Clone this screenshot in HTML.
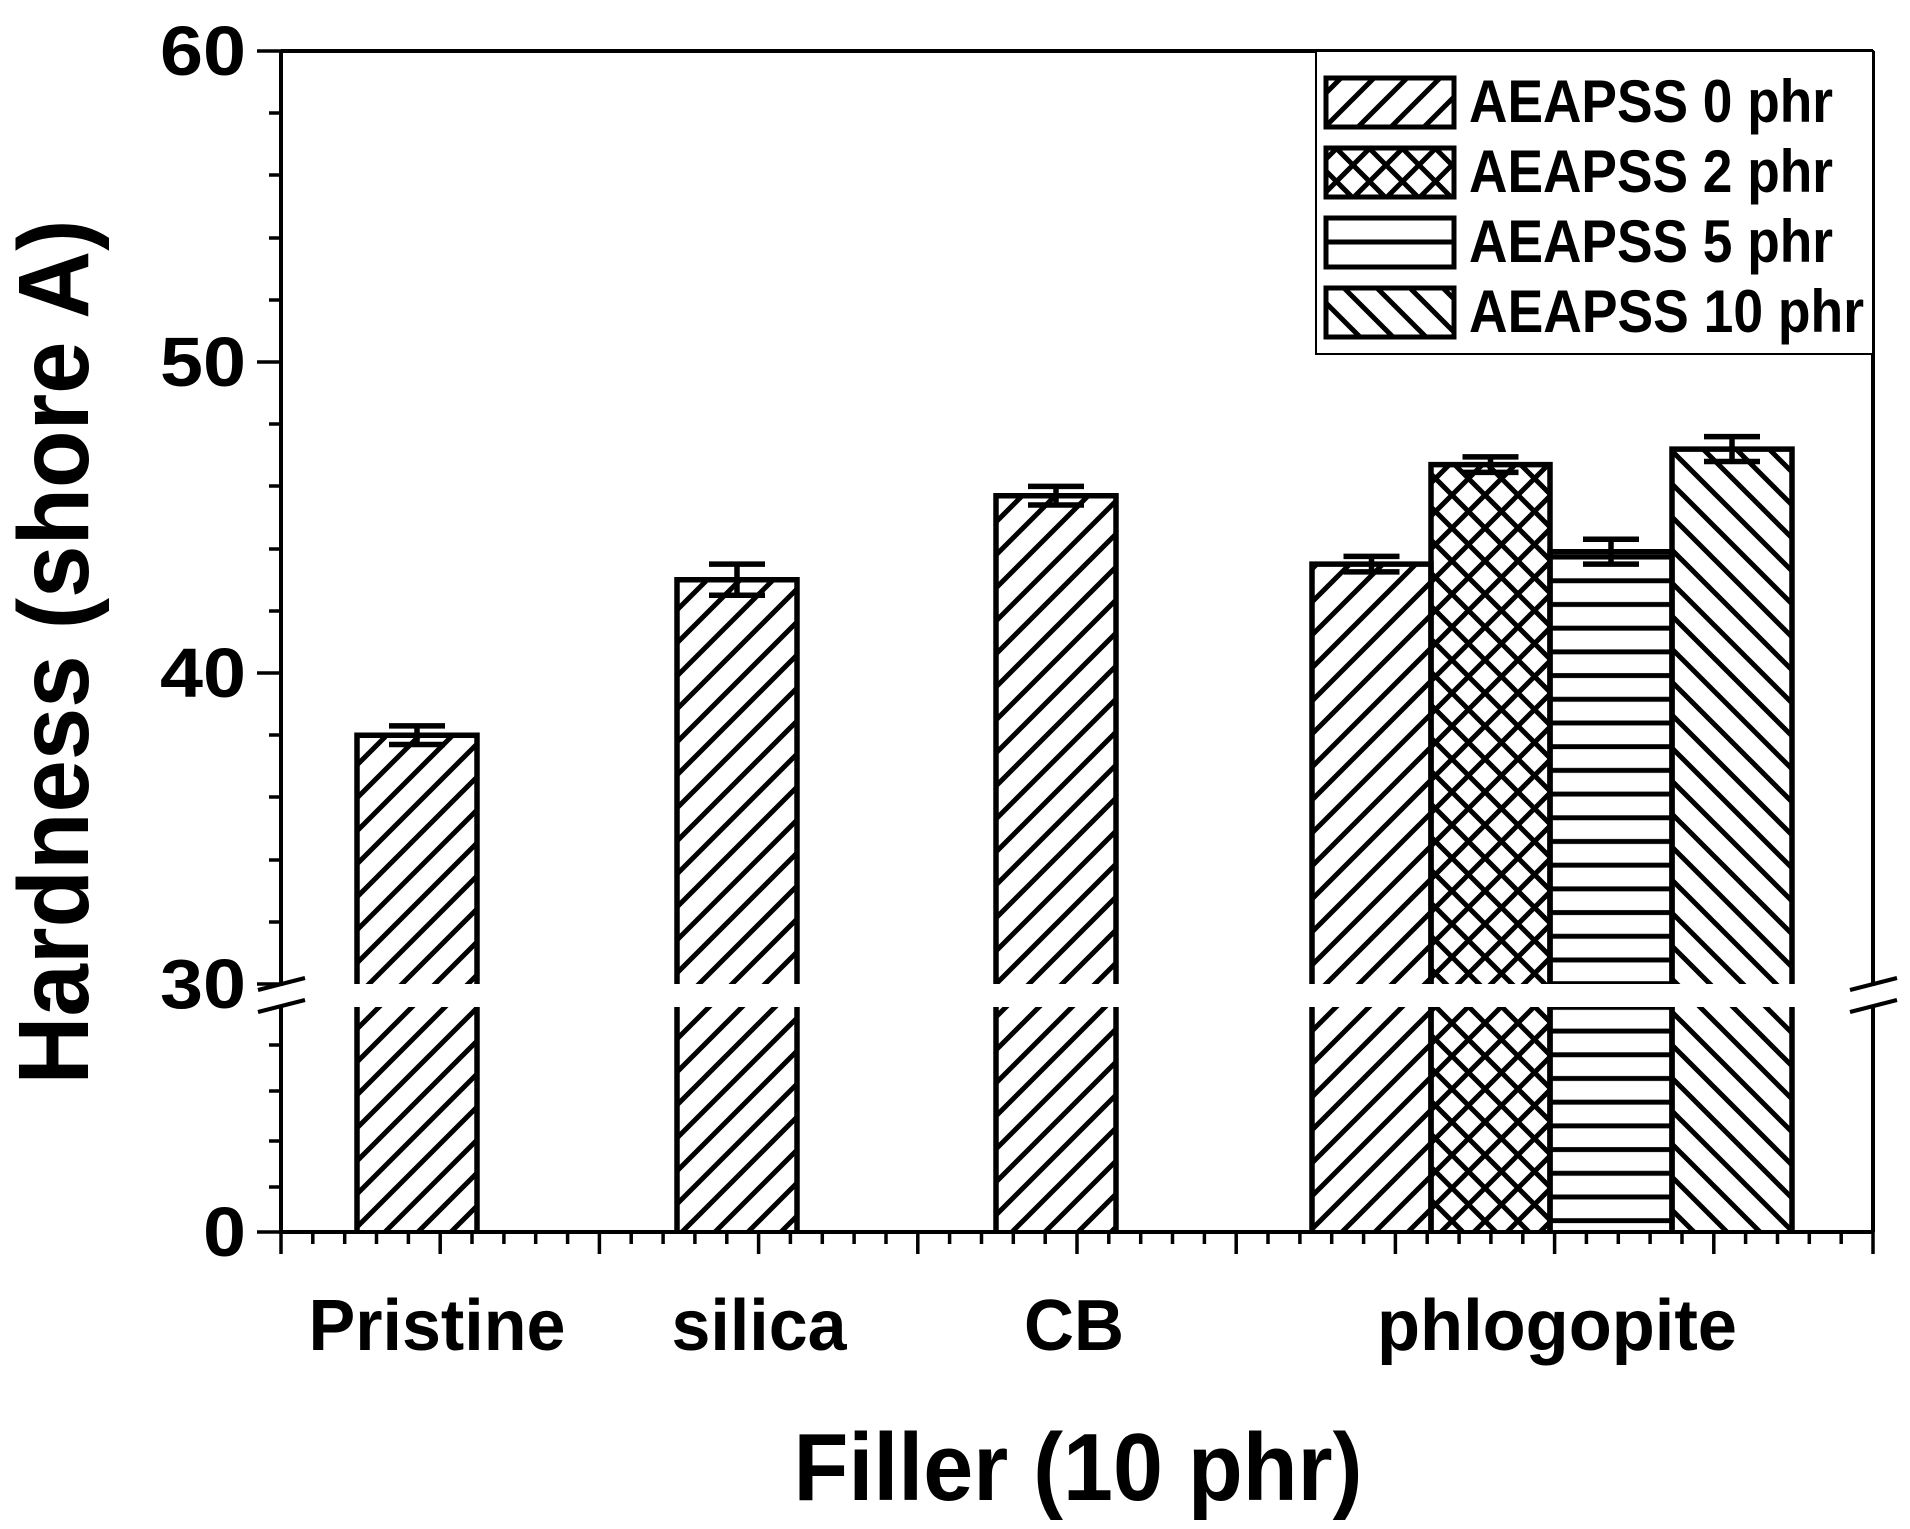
<!DOCTYPE html>
<html><head><meta charset="utf-8"><style>html,body{margin:0;padding:0;background:#fff}svg{display:block}text{font-family:"Liberation Sans",Arial,sans-serif;font-weight:bold;fill:#000}</style></head>
<body>
<svg width="1910" height="1529" viewBox="0 0 1910 1529" xmlns="http://www.w3.org/2000/svg">
<defs>
<pattern id="fw" patternUnits="userSpaceOnUse" width="33" height="33"><path d="M-8,41 L41,-8 M-8,8 L8,-8 M25,41 L41,25" stroke="#000" stroke-width="5"/></pattern>
<pattern id="bw" patternUnits="userSpaceOnUse" width="33" height="33"><path d="M-8,-8 L41,41 M-8,25 L8,41 M25,-8 L41,8" stroke="#000" stroke-width="5"/></pattern>
<pattern id="cr" patternUnits="userSpaceOnUse" width="33" height="33"><path d="M-8,41 L41,-8 M-8,8 L8,-8 M25,41 L41,25 M-8,-8 L41,41 M-8,25 L8,41 M25,-8 L41,8" stroke="#000" stroke-width="5"/></pattern>
<pattern id="hz" patternUnits="userSpaceOnUse" width="24" height="23.7"><path d="M0,12 L24,12" stroke="#000" stroke-width="5"/></pattern>
</defs>
<g fill="none" stroke="#000" stroke-width="4">
<path d="M281,51 L1873,51 M281,51 L281,986 M281,1005 L281,1232 L1873,1232 M1873,51 L1873,986 M1873,1005 L1873,1232"/>
<path d="M258,990 L305,978 M258,1012 L305,1000 M1850,990 L1897,978 M1850,1012 L1897,1000"/>
</g>
<g stroke="#000" stroke-width="3.5">
<path d="M257,51H281M257,362H281M257,673H281M257,984H281
M269,113H281M269,175H281M269,238H281M269,300H281
M269,424H281M269,486H281M269,549H281M269,611H281
M269,735H281M269,797H281M269,860H281M269,922H281
M257,1232H281M269,1045H281M269,1091H281M269,1141H281M269,1187H281"/>
</g>
<g stroke="#000" stroke-width="3.5" id="xt"></g>
<script>
var g=document.getElementById('xt'),d='';
for(var i=0;i<=50;i++){var x=281+i*1592/50;var L=(i%5==0)?22:12;d+='M'+x.toFixed(1)+',1232V'+(1232+L);}
var p=document.createElementNS('http://www.w3.org/2000/svg','path');p.setAttribute('d',d);g.appendChild(p);
</script>
<g id="bars"></g>
<script>
var bars=[[357,477,38,0.3,'fw'],[677,797,43,0.5,'fw'],[996,1116,45.7,0.3,'fw'],[1312,1431,43.5,0.25,'fw'],[1431,1550,46.7,0.25,'cr'],[1550,1672,43.9,0.4,'hz'],[1672,1792,47.2,0.4,'bw']];
var ns='http://www.w3.org/2000/svg',G=document.getElementById('bars');
function Y(v){return 51+(60-v)*31.1;}
function el(t,a){var e=document.createElementNS(ns,t);for(var k in a)e.setAttribute(k,a[k]);G.appendChild(e);return e;}
bars.forEach(function(b){
 var top=Y(b[2]);
 el('rect',{x:b[0],y:top,width:b[1]-b[0],height:984-top,fill:'url(#'+b[4]+')',stroke:'none'});
 el('rect',{x:b[0],y:1007,width:b[1]-b[0],height:1232-1007,fill:'url(#'+b[4]+')',stroke:'none'});
 el('path',{d:'M'+b[0]+',984V'+top+'H'+b[1]+'V984 M'+b[0]+',1007V1232 M'+b[1]+',1007V1232',fill:'none',stroke:'#000','stroke-width':5.5});
 var c=(b[0]+b[1])/2,t=Y(b[2]+b[3]),bt=Y(b[2]-b[3]);
 el('path',{d:'M'+c+','+t+'V'+bt+'M'+(c-28)+','+t+'H'+(c+28)+'M'+(c-28)+','+bt+'H'+(c+28),stroke:'#000','stroke-width':5.5,fill:'none'});
});
</script>
<g font-size="70" text-anchor="end">
<text x="246" y="75" textLength="86" lengthAdjust="spacingAndGlyphs">60</text>
<text x="246" y="386" textLength="86" lengthAdjust="spacingAndGlyphs">50</text>
<text x="246" y="697" textLength="86" lengthAdjust="spacingAndGlyphs">40</text>
<text x="246" y="1008" textLength="86" lengthAdjust="spacingAndGlyphs">30</text>
<text x="246" y="1256" textLength="43" lengthAdjust="spacingAndGlyphs">0</text>
</g>
<g font-size="72" text-anchor="middle">
<text x="437" y="1350" textLength="257" lengthAdjust="spacingAndGlyphs">Pristine</text>
<text x="759" y="1350" textLength="175" lengthAdjust="spacingAndGlyphs">silica</text>
<text x="1074" y="1350" textLength="100" lengthAdjust="spacingAndGlyphs">CB</text>
<text x="1557" y="1350" textLength="360" lengthAdjust="spacingAndGlyphs">phlogopite</text>
</g>
<text x="1078" y="1500" font-size="96" text-anchor="middle" textLength="569" lengthAdjust="spacingAndGlyphs">Filler (10 phr)</text>
<text transform="translate(88,652) rotate(-90)" font-size="100" text-anchor="middle" textLength="865" lengthAdjust="spacingAndGlyphs">Hardness (shore A)</text>
<rect x="1316" y="51" width="557" height="303" fill="#fff" stroke="#000" stroke-width="2"/>
<g stroke="#000" stroke-width="5">
<rect x="1326" y="78" width="128" height="49" fill="url(#fw)"/>
<rect x="1326" y="148" width="128" height="49" fill="url(#cr)"/>
<rect x="1326" y="218" width="128" height="49" fill="#fff"/>
<path d="M1326,242H1454"/>
<rect x="1326" y="288" width="128" height="49" fill="url(#bw)"/>
</g>
<g font-size="60">
<text x="1469" y="122" textLength="364" lengthAdjust="spacingAndGlyphs">AEAPSS 0 phr</text>
<text x="1469" y="192" textLength="364" lengthAdjust="spacingAndGlyphs">AEAPSS 2 phr</text>
<text x="1469" y="262" textLength="364" lengthAdjust="spacingAndGlyphs">AEAPSS 5 phr</text>
<text x="1469" y="332" textLength="395" lengthAdjust="spacingAndGlyphs">AEAPSS 10 phr</text>
</g>
</svg>
</body></html>
